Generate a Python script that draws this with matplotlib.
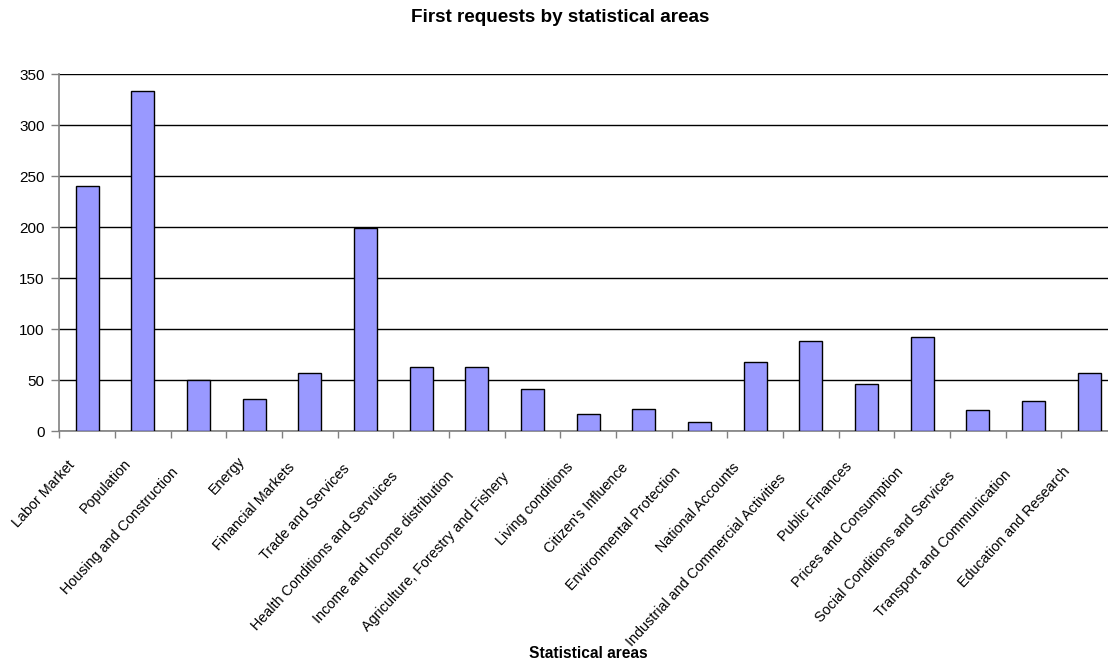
import matplotlib
matplotlib.use("Agg")
import matplotlib.pyplot as plt
import matplotlib.transforms as mtransforms
import numpy as np

plt.rcParams['font.family'] = ['Liberation Sans', 'DejaVu Sans']

categories = [
    "Labor Market", "Population", "Housing and Construction", "Energy",
    "Financial Markets", "Trade and Services", "Health Conditions and Servuices",
    "Income and Income distribution", "Agriculture, Forestry and Fishery",
    "Living conditions", "Citizen's Influence", "Environmental Protection",
    "National Accounts", "Industrial and Commercial Activities", "Public Finances",
    "Prices and Consumption", "Social Conditions and Services",
    "Transport and Communication", "Education and Research",
]
requests = [240, 333, 50, 32, 57, 199, 63, 63, 41, 17, 22, 9, 68, 88, 46, 92, 21, 30, 57]
y_ticks = [0, 50, 100, 150, 200, 250, 300, 350]

W, H = 1108, 661
fig = plt.figure(figsize=(W / 100, H / 100), dpi=100)
fig.patch.set_facecolor('white')

left, right, top, bottom = 59.3, 1117.0, 74.0, 431.3
ax = fig.add_axes([left / W, (H - bottom) / H, (right - left) / W, (bottom - top) / H])

x = np.arange(len(categories))
ax.bar(x, requests, width=0.41, color='#9999FF', edgecolor='black', linewidth=1.0, zorder=3)

ax.set_xlim(-0.5, len(categories) - 0.5)
ax.set_ylim(0, 350)
ax.set_yticks(y_ticks)
ax.set_yticklabels([str(v) for v in y_ticks], fontsize=11)
ax.yaxis.grid(True, color='black', linewidth=1.0, zorder=0)
ax.set_axisbelow(True)

angle = 47.5
# category boundaries carry the tick marks; labels sit under the bar centres
ax.set_xticks(np.arange(len(categories) + 1) - 0.5)
ax.set_xticklabels([])
ax.set_xticks(x, minor=True)
ax.set_xticklabels(categories, minor=True, rotation=angle, ha='right', va='top',
                   rotation_mode='anchor', fontsize=10.4)
ax.tick_params(axis='x', which='minor', length=0, pad=8)
ax.tick_params(axis='x', which='major', length=5, width=1, color='#808080', direction='out')
ax.tick_params(axis='y', length=6, width=1, color='#808080', direction='out', pad=4.5)

# slanted labels: longer labels slide a little further down the diagonal
renderer = fig.canvas.get_renderer()
cos_a, sin_a = np.cos(np.radians(angle)), np.sin(np.radians(angle))
for lbl in ax.get_xticklabels(minor=True):
    w, _, _ = renderer.get_text_width_height_descent(
        lbl.get_text(), lbl.get_fontproperties(), ismath=False)
    slide = 0.13 * (w - 94)
    dx = (-21 - slide * cos_a) / 100
    dy = (-16 - slide * sin_a) / 100
    lbl.set_transform(lbl.get_transform() +
                      mtransforms.ScaledTranslation(dx, dy, fig.dpi_scale_trans))

for side in ['top', 'right']:
    ax.spines[side].set_visible(False)
for side in ['left', 'bottom']:
    ax.spines[side].set_color('#808080')
    ax.spines[side].set_linewidth(1.2)

fig.text(588 / W, 1 - 653 / H, 'Statistical areas', ha='center', va='center',
         fontsize=11.2, fontweight='bold')

fig.text(560 / W, 1 - 18 / H, 'First requests by statistical areas', ha='center', va='center',
         fontsize=13.6, fontweight='bold')

fig.savefig('out.png', dpi=100, facecolor='white')
